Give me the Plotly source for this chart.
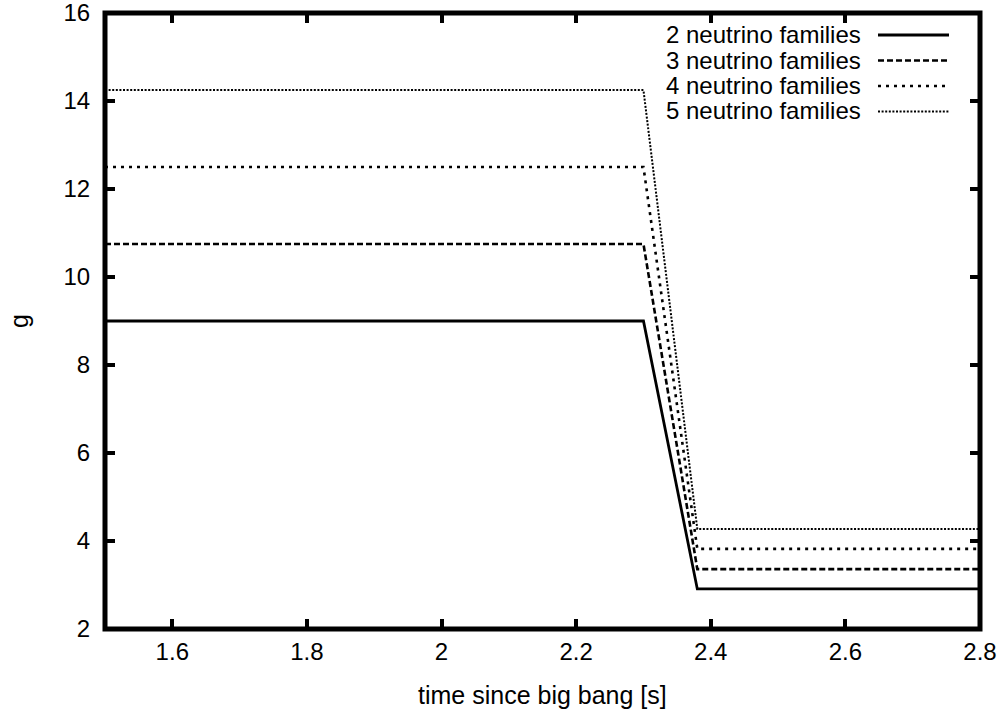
import plotly.graph_objects as go

# ---- data ----
time_s = [1.5, 2.3, 2.38, 2.8]
g_2nu = [9.0, 9.0, 2.91, 2.91]
g_3nu = [10.75, 10.75, 3.36, 3.36]
g_4nu = [12.5, 12.5, 3.82, 3.82]
g_5nu = [14.25, 14.25, 4.27, 4.27]
series_names = ["2 neutrino families", "3 neutrino families",
                "4 neutrino families", "5 neutrino families"]
x_tick_vals = [1.6, 1.8, 2.0, 2.2, 2.4, 2.6, 2.8]
x_tick_text = ["1.6", "1.8", "2", "2.2", "2.4", "2.6", "2.8"]
y_tick_vals = [2, 4, 6, 8, 10, 12, 14, 16]
x_title = "time since big bang [s]"
y_title = "g"

FONT = "Liberation Sans, Arial, Helvetica, sans-serif"
styles = [
    dict(width=2.8, dash="solid"),
    dict(width=2.6, dash="6px,3px"),
    dict(width=2.6, dash="3px,5px"),
    dict(width=2, dash="2px,1.6px"),
]
series = [g_2nu, g_3nu, g_4nu, g_5nu]
Y_RANGE = [2, 16.00001]

W, H = 1006, 713
ML, MR, MT, MB = 105, 26, 13, 84
PW, PH = W - ML - MR, H - MT - MB


def px_to_paper(px, py):
    return (px - ML) / PW, (H - MB - py) / PH


fig = go.Figure()
for name, ys, st in zip(series_names, series, styles):
    fig.add_trace(go.Scatter(x=time_s, y=ys, mode="lines", name=name,
                             line=dict(color="black", **st), showlegend=False))
# invisible copy on the label axis so that it gets drawn
fig.add_trace(go.Scatter(x=time_s, y=g_2nu, mode="lines", yaxis="y2", opacity=0,
                         hoverinfo="skip", showlegend=False,
                         line=dict(color="black", width=0.1)))

# custom legend (text right-aligned, sample to the right) like gnuplot
leg_y = [34.5, 60, 85.5, 111]  # pixel rows from top of figure
for name, st, py in zip(series_names, styles, leg_y):
    xt, yp = px_to_paper(863, py)
    x0, _ = px_to_paper(878, py + 0.5)
    x1, _ = px_to_paper(949, py)
    _, yl = px_to_paper(0, py + 0.5)
    fig.add_annotation(xref="paper", yref="paper", x=xt, y=yp,
                       xanchor="right", yanchor="middle", text=name,
                       showarrow=False, font=dict(family=FONT, size=24, color="black"))
    fig.add_shape(type="line", xref="paper", yref="paper",
                  x0=x0, x1=x1, y0=yl, y1=yl,
                  line=dict(color="black", **st))

# axis titles
tx, ty = px_to_paper(542, 695)
fig.add_annotation(xref="paper", yref="paper", x=tx, y=ty, xanchor="center",
                   yanchor="middle", text=x_title, showarrow=False,
                   font=dict(family=FONT, size=25, color="black"))
gx, gy = px_to_paper(19, 321)
fig.add_annotation(xref="paper", yref="paper", x=gx, y=gy, xanchor="center",
                   yanchor="middle", text=y_title, showarrow=False, textangle=-90,
                   font=dict(family=FONT, size=25, color="black"))

# border box
fig.add_shape(type="rect", xref="x domain", yref="y domain", x0=0, x1=1, y0=0, y1=1,
              line=dict(color="black", width=5), layer="above")

fig.update_layout(
    width=W, height=H, autosize=False,
    margin=dict(l=ML, r=MR, t=MT, b=MB, autoexpand=False),
    paper_bgcolor="white", plot_bgcolor="white",
    font=dict(family=FONT, size=24, color="black"),
    showlegend=False,
    xaxis=dict(range=[1.5, 2.8], tickvals=x_tick_vals, ticktext=x_tick_text,
               automargin=False,
               ticks="inside", ticklen=10, tickwidth=4, tickcolor="black",
               mirror="ticks", showgrid=False, zeroline=False, showline=False,
               ticklabelstandoff=6,
               tickfont=dict(family=FONT, size=24)),
    yaxis=dict(range=Y_RANGE, tickvals=y_tick_vals, automargin=False,
               showticklabels=False, ticks="inside", ticklen=10, tickwidth=4,
               tickcolor="black", mirror="ticks", showgrid=False,
               zeroline=False, showline=False),
    yaxis2=dict(overlaying="y", anchor="x", side="left", range=Y_RANGE,
                tickvals=y_tick_vals, ticks="outside", ticklen=9,
                tickcolor="rgba(0,0,0,0)", showgrid=False, zeroline=False,
                showline=False, automargin=False, ticklabeloverflow="allow",
                tickfont=dict(family=FONT, size=24, color="black")),
)

fig.write_html("out.html")
